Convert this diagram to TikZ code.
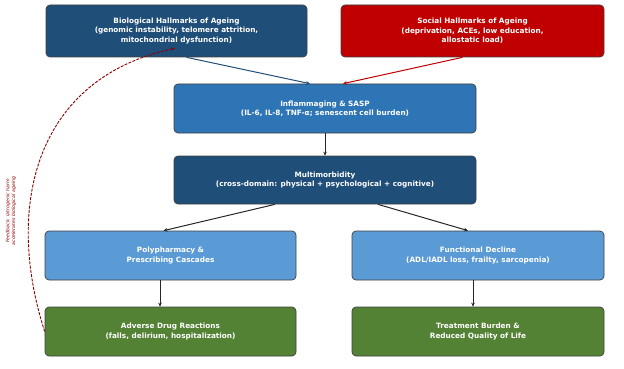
\documentclass[tikz,border=0pt]{standalone}
\usepackage{fontspec}
\setmainfont{DejaVu Sans}
\usepackage{xcolor}
\usetikzlibrary{arrows.meta}
\usetikzlibrary{positioning, shapes.geometric}

\definecolor{navy}{HTML}{1F4E79}
\definecolor{socialred}{HTML}{C00000}
\definecolor{midblue}{HTML}{2E75B6}
\definecolor{lightblue}{HTML}{5B9BD5}
\definecolor{leafgreen}{HTML}{548235}
\definecolor{feedred}{HTML}{8B0000}

\begin{document}
\begin{tikzpicture}[
    x=1pt, y=-1pt,
    box/.style={
        rectangle,
        rounded corners=4pt,
        draw=black!75,     % dunkler Rand
        line width=0.7pt,
        inner sep=0pt,
        align=center,
        text=white,
        font=\fontsize{7.3}{9.4}\selectfont\bfseries
    },
    flow/.style={-{Stealth[length=4pt,width=3.6pt]}, line width=1pt, black!85}
]
        \useasboundingbox (0,0) rectangle (624,369);

        % obere Reihe
        \node[box, fill=navy, minimum width=261pt, minimum height=52pt] (bio) at (176.5,31)
            {Biological Hallmarks of Ageing\\(genomic instability, telomere attrition,\\mitochondrial dysfunction)};
        \node[box, fill=socialred, minimum width=263pt, minimum height=52pt] (social) at (472.5,31)
            {Social Hallmarks of Ageing\\(deprivation, ACEs, low education,\\allostatic load)};

        % mittlere Kette
        \node[box, fill=midblue, minimum width=302pt, minimum height=49pt] (inflam) at (325,108.5)
            {Inflammaging \& SASP\\(IL-6, IL-8, TNF-α; senescent cell burden)};
        \node[box, fill=navy, minimum width=302pt, minimum height=48pt] (multi) at (325,180)
            {Multimorbidity\\(cross-domain: physical + psychological + cognitive)};

        % Folgen
        \node[box, fill=lightblue, minimum width=251pt, minimum height=49pt] (poly) at (170.5,255.5)
            {Polypharmacy \&\\Prescribing Cascades};
        \node[box, fill=lightblue, minimum width=252pt, minimum height=49pt] (func) at (478,255.5)
            {Functional Decline\\(ADL/IADL loss, frailty, sarcopenia)};
        \node[box, fill=leafgreen, minimum width=251pt, minimum height=49pt] (adr) at (170.5,331.5)
            {Adverse Drug Reactions\\(falls, delirium, hospitalization)};
        \node[box, fill=leafgreen, minimum width=252pt, minimum height=49pt] (burden) at (478,331.5)
            {Treatment Burden \&\\Reduced Quality of Life};

        \draw[flow, navy] ([xshift=10pt]bio.south) -- ([xshift=-15pt]inflam.north);
        \draw[flow, socialred] ([xshift=-10pt]social.south) -- ([xshift=18pt]inflam.north);
        \draw[flow] (inflam.south) -- (multi.north);
        \draw[flow] ([xshift=-50pt]multi.south) -- ([xshift=-7pt]poly.north);
        \draw[flow] ([xshift=53pt]multi.south) -- ([xshift=-10pt]func.north);
        \draw[flow] ([xshift=-10.5pt]poly.south) -- ([xshift=-10.5pt]adr.north);
        \draw[flow] ([xshift=-5pt]func.south) -- ([xshift=-5pt]burden.north);

        % Rueckkopplung
        \draw[-{Stealth[length=3.5pt,width=3pt]}, feedred, dash pattern=on 3pt off 1.3pt, line width=0.9pt]
            (adr.west) .. controls (4,205) and (36,78) .. ([xshift=-1.5pt, yshift=9pt]bio.south);
        \node[rotate=90, align=center, text=feedred, font=\fontsize{4.7}{5.7}\selectfont\itshape] (fblabel) at (11,211)
            {Feedback: iatrogenic harm\\accelerates biological ageing};

    \end{tikzpicture}
\end{document}
